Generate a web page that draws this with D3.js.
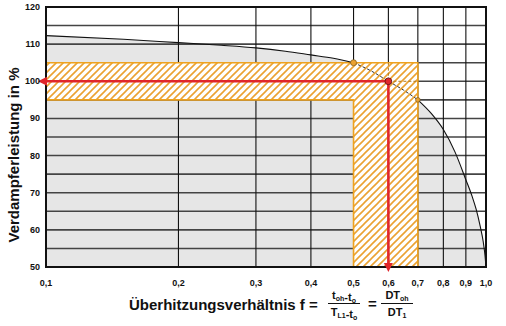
<!DOCTYPE html>
<html>
<head>
<meta charset="utf-8">
<script src="https://d3js.org/d3.v7.min.js"></script>
<style>
  body { margin: 0; background: #fff; }
  svg { display: block; font-family: "Liberation Sans", Arial, sans-serif; }
  .tick-label { font-size: 9px; font-weight: bold; fill: #111; }
  .title { font-size: 15px; font-weight: bold; fill: #111; }
</style>
</head>
<body>
<script>
// curve: Verdampferleistung over Überhitzungsverhältnis
var fValues = [0.1, 0.15, 0.2, 0.25, 0.3, 0.35, 0.4, 0.45, 0.5, 0.55, 0.6, 0.65, 0.7, 0.75, 0.8, 0.85, 0.9, 0.93, 0.95, 0.97, 0.985, 0.995, 1.0];
var leistung = [112.3, 111.3, 110.4, 109.7, 109, 108.1, 107.1, 106.2, 105, 102.7, 100, 97.6, 95, 91.4, 87, 81, 73.5, 69, 65.5, 61, 57, 53, 50];

var xTicks = [0.1, 0.2, 0.3, 0.4, 0.5, 0.6, 0.7, 0.8, 0.9, 1.0];
var xTickLabels = ["0,1", "0,2", "0,3", "0,4", "0,5", "0,6", "0,7", "0,8", "0,9", "1,0"];
var yTicks = [50, 60, 70, 80, 90, 100, 110, 120];
var yGrid = [55, 60, 65, 70, 75, 80, 85, 90, 95, 100, 105, 110, 115];

// working point and band
var bandF = [0.5, 0.7];
var bandY = [95, 105];
var point = { f: 0.6, y: 100 };
var markers = [{ f: 0.5, y: 105, r: 3 }, { f: 0.7, y: 95, r: 2.3 }];

var W = 506, H = 326;
var x = d3.scaleLog().domain([0.1, 1]).range([46, 486]);
var y = d3.scaleLinear().domain([50, 120]).range([267, 7]);

var svg = d3.select("body").append("svg").attr("width", W).attr("height", H);

var defs = svg.append("defs");
var pat = defs.append("pattern")
    .attr("id", "hatch")
    .attr("patternUnits", "userSpaceOnUse")
    .attr("width", 7).attr("height", 7);
pat.append("rect").attr("width", 7).attr("height", 7).attr("fill", "#fff");
pat.append("path")
    .attr("d", "M-1,1 l2,-2 M0,7 l7,-7 M6,8 l2,-2")
    .attr("stroke", "#eba232").attr("stroke-width", 1.6);

defs.append("clipPath").attr("id", "plot")
  .append("rect")
    .attr("x", x(0.1)).attr("y", y(120))
    .attr("width", x(1) - x(0.1)).attr("height", y(50) - y(120));

var plot = svg.append("g").attr("clip-path", "url(#plot)");

// grey area under the curve
var pts = fValues.map(function(f, i) { return { f: f, v: leistung[i] }; });
plot.append("path")
    .datum(pts)
    .attr("fill", "#e6e6e6")
    .attr("d", d3.area()
        .x(function(d) { return x(d.f); })
        .y0(y(50))
        .y1(function(d) { return y(d.v); })
        .curve(d3.curveMonotoneX));

// grid
plot.selectAll(".hgrid").data(yGrid).enter().append("line")
    .attr("x1", x(0.1)).attr("x2", x(1))
    .attr("y1", function(d) { return y(d); })
    .attr("y2", function(d) { return y(d); })
    .attr("stroke", "#444").attr("stroke-width", 1.6);
plot.selectAll(".vgrid").data(xTicks.slice(1, -1)).enter().append("line")
    .attr("x1", function(d) { return x(d); })
    .attr("x2", function(d) { return x(d); })
    .attr("y1", y(120)).attr("y2", y(50))
    .attr("stroke", "#111").attr("stroke-width", 1.1);

// hatched L-shaped band
var bandPath = "M" + x(0.1) + "," + y(bandY[1]) +
    "H" + x(bandF[1]) + "V" + y(50) +
    "H" + x(bandF[0]) + "V" + y(bandY[0]) +
    "H" + x(0.1) + "Z";
svg.append("path")
    .attr("d", bandPath)
    .attr("fill", "url(#hatch)")
    .attr("stroke", "#eea21f").attr("stroke-width", 1.6);

// curve, dashed where it crosses the band
var line = d3.line()
    .x(function(d) { return x(d.f); })
    .y(function(d) { return y(d.v); })
    .curve(d3.curveMonotoneX);
svg.append("path")
    .datum(pts.filter(function(d) { return d.f <= bandF[0]; }))
    .attr("fill", "none").attr("stroke", "#111").attr("stroke-width", 1.1)
    .attr("d", line);
svg.append("path")
    .datum(pts.filter(function(d) { return d.f >= bandF[1]; }))
    .attr("fill", "none").attr("stroke", "#111").attr("stroke-width", 1.1)
    .attr("d", line);
svg.append("path")
    .datum(pts.filter(function(d) { return d.f >= bandF[0] && d.f <= bandF[1]; }))
    .attr("fill", "none").attr("stroke", "#333").attr("stroke-width", 1)
    .attr("stroke-dasharray", "3,2")
    .attr("d", line);

// dashed helper lines at the working point
svg.append("line")
    .attr("x1", x(point.f)).attr("x2", x(bandF[1]))
    .attr("y1", y(point.y)).attr("y2", y(point.y))
    .attr("stroke", "#b07a20").attr("stroke-width", 1).attr("stroke-dasharray", "3,2");
svg.append("line")
    .attr("x1", x(point.f)).attr("x2", x(point.f))
    .attr("y1", y(bandY[1])).attr("y2", y(point.y))
    .attr("stroke", "#b07a20").attr("stroke-width", 1).attr("stroke-dasharray", "3,2");

// frame
svg.append("rect")
    .attr("x", x(0.1)).attr("y", y(120))
    .attr("width", x(1) - x(0.1)).attr("height", y(50) - y(120))
    .attr("fill", "none").attr("stroke", "#111").attr("stroke-width", 2);

// red arrows
var red = "#e0262b";
svg.append("line")
    .attr("x1", x(point.f)).attr("x2", x(0.1) - 2)
    .attr("y1", y(point.y)).attr("y2", y(point.y))
    .attr("stroke", red).attr("stroke-width", 2.6);
svg.append("path")
    .attr("d", "M" + (x(0.1) - 8) + "," + y(point.y) + "l9,-4.5v9z")
    .attr("fill", red);
svg.append("line")
    .attr("x1", x(point.f)).attr("x2", x(point.f))
    .attr("y1", y(point.y)).attr("y2", y(50) - 2)
    .attr("stroke", red).attr("stroke-width", 2.6);
svg.append("path")
    .attr("d", "M" + x(point.f) + "," + (y(50) + 5) + "l-4.5,-9h9z")
    .attr("fill", red);

// markers
svg.selectAll(".marker").data(markers).enter().append("circle")
    .attr("cx", function(d) { return x(d.f); })
    .attr("cy", function(d) { return y(d.y); })
    .attr("r", function(d) { return d.r; })
    .attr("fill", "#eba232").attr("stroke", "#7a5a20").attr("stroke-width", 0.7);
svg.append("circle")
    .attr("cx", x(point.f)).attr("cy", y(point.y)).attr("r", 3.4)
    .attr("fill", red).attr("stroke", "#5a1010").attr("stroke-width", 0.8);

// tick labels
svg.selectAll(".ylab").data(yTicks).enter().append("text")
    .attr("class", "tick-label")
    .attr("x", 40).attr("y", function(d) { return y(d) + 3; })
    .attr("text-anchor", "end")
    .text(function(d) { return d; });
svg.selectAll(".xlab").data(xTicks).enter().append("text")
    .attr("class", "tick-label")
    .attr("x", function(d) { return x(d); })
    .attr("y", 286)
    .attr("text-anchor", "middle")
    .text(function(d, i) { return xTickLabels[i]; });

// axis titles
svg.append("text")
    .attr("class", "title")
    .attr("transform", "translate(19,155) rotate(-90)")
    .attr("text-anchor", "middle")
    .text("Verdampferleistung in %");

svg.append("text").attr("class", "title").attr("x", 129).attr("y", 310).text("Überhitzungsverhältnis f =");

function frac(cx, top, bottom, w) {
  var g = svg.append("g").style("font-weight", "bold").style("font-size", "11px").attr("fill", "#111");
  [[top, 299], [bottom, 316]].forEach(function(row) {
    var t = g.append("text").attr("x", cx).attr("y", row[1]).attr("text-anchor", "middle");
    row[0].forEach(function(p) {
      t.append("tspan").text(p[0]);
      if (p[1]) {
        t.append("tspan").attr("dy", 2).style("font-size", "7px").text(p[1]);
        t.append("tspan").attr("dy", -2).text("");
      }
    });
  });
  g.append("line").attr("x1", cx - w / 2).attr("x2", cx + w / 2)
    .attr("y1", 303.5).attr("y2", 303.5).attr("stroke", "#111").attr("stroke-width", 1);
}
frac(344, [["t", "oh"], ["-t", "o"]], [["T", "L1"], ["-t", "o"]], 32);
svg.append("text").attr("class", "title").attr("x", 368).attr("y", 309).text("=");
frac(397, [["DT", "oh"]], [["DT", "1"]], 32);
</script>
</body>
</html>
